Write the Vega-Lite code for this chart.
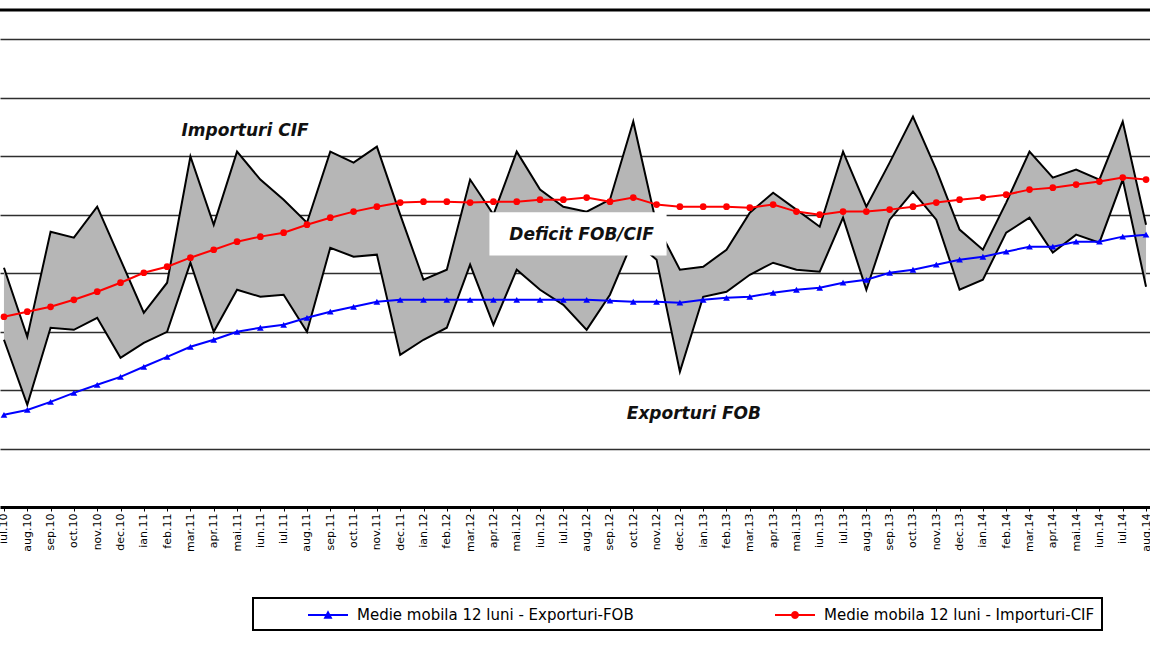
{
  "$schema": "https://vega.github.io/schema/vega-lite/v6.json",
  "width": 1150,
  "height": 497,
  "autosize": {"type": "none"},
  "padding": {"top": 10, "left": 0, "right": 0, "bottom": 140},
  "background": "white",
  "config": {"view": {"stroke": null}, "font": "DejaVu Sans", "legend": {"strokeWidth": 2}},
  "datasets": {
    "trade": [
      {"m": "iul.10", "imp": 4046, "exp": 3430, "mi": 3627, "me": 2788},
      {"m": "aug.10", "imp": 3455, "exp": 2873, "mi": 3670, "me": 2830},
      {"m": "sep.10", "imp": 4354, "exp": 3533, "mi": 3712, "me": 2899},
      {"m": "oct.10", "imp": 4303, "exp": 3515, "mi": 3772, "me": 2976},
      {"m": "nov.10", "imp": 4568, "exp": 3618, "mi": 3841, "me": 3045},
      {"m": "dec.10", "imp": 4115, "exp": 3276, "mi": 3918, "me": 3113},
      {"m": "ian.11", "imp": 3661, "exp": 3404, "mi": 4003, "me": 3199},
      {"m": "feb.11", "imp": 3918, "exp": 3498, "mi": 4055, "me": 3284},
      {"m": "mar.11", "imp": 4997, "exp": 4089, "mi": 4132, "me": 3370},
      {"m": "apr.11", "imp": 4414, "exp": 3498, "mi": 4200, "me": 3430},
      {"m": "mai.11", "imp": 5039, "exp": 3858, "mi": 4269, "me": 3498},
      {"m": "iun.11", "imp": 4800, "exp": 3798, "mi": 4312, "me": 3533},
      {"m": "iul.11", "imp": 4628, "exp": 3815, "mi": 4346, "me": 3558},
      {"m": "aug.11", "imp": 4431, "exp": 3498, "mi": 4414, "me": 3618},
      {"m": "sep.11", "imp": 5039, "exp": 4217, "mi": 4474, "me": 3670},
      {"m": "oct.11", "imp": 4945, "exp": 4140, "mi": 4526, "me": 3712},
      {"m": "nov.11", "imp": 5082, "exp": 4158, "mi": 4568, "me": 3755},
      {"m": "dec.11", "imp": 4500, "exp": 3301, "mi": 4603, "me": 3772},
      {"m": "ian.12", "imp": 3943, "exp": 3430, "mi": 4611, "me": 3772},
      {"m": "feb.12", "imp": 4029, "exp": 3533, "mi": 4611, "me": 3772},
      {"m": "mar.12", "imp": 4800, "exp": 4072, "mi": 4603, "me": 3772},
      {"m": "apr.12", "imp": 4500, "exp": 3558, "mi": 4611, "me": 3772},
      {"m": "mai.12", "imp": 5039, "exp": 4029, "mi": 4611, "me": 3772},
      {"m": "iun.12", "imp": 4714, "exp": 3858, "mi": 4628, "me": 3772},
      {"m": "iul.12", "imp": 4568, "exp": 3729, "mi": 4628, "me": 3772},
      {"m": "aug.12", "imp": 4526, "exp": 3515, "mi": 4646, "me": 3772},
      {"m": "sep.12", "imp": 4628, "exp": 3815, "mi": 4611, "me": 3764},
      {"m": "oct.12", "imp": 5296, "exp": 4286, "mi": 4646, "me": 3755},
      {"m": "nov.12", "imp": 4414, "exp": 4115, "mi": 4586, "me": 3755},
      {"m": "dec.12", "imp": 4029, "exp": 3156, "mi": 4568, "me": 3747},
      {"m": "ian.13", "imp": 4055, "exp": 3798, "mi": 4568, "me": 3772},
      {"m": "feb.13", "imp": 4200, "exp": 3841, "mi": 4568, "me": 3789},
      {"m": "mar.13", "imp": 4517, "exp": 3986, "mi": 4560, "me": 3798},
      {"m": "apr.13", "imp": 4688, "exp": 4089, "mi": 4586, "me": 3832},
      {"m": "mai.13", "imp": 4543, "exp": 4029, "mi": 4526, "me": 3858},
      {"m": "iun.13", "imp": 4397, "exp": 4012, "mi": 4500, "me": 3875},
      {"m": "iul.13", "imp": 5039, "exp": 4474, "mi": 4526, "me": 3918},
      {"m": "aug.13", "imp": 4568, "exp": 3858, "mi": 4526, "me": 3943},
      {"m": "sep.13", "imp": 4945, "exp": 4457, "mi": 4543, "me": 4003},
      {"m": "oct.13", "imp": 5339, "exp": 4697, "mi": 4568, "me": 4029},
      {"m": "nov.13", "imp": 4885, "exp": 4457, "mi": 4603, "me": 4072},
      {"m": "dec.13", "imp": 4372, "exp": 3858, "mi": 4628, "me": 4115},
      {"m": "ian.14", "imp": 4200, "exp": 3943, "mi": 4646, "me": 4140},
      {"m": "feb.14", "imp": 4603, "exp": 4346, "mi": 4671, "me": 4183},
      {"m": "mar.14", "imp": 5039, "exp": 4474, "mi": 4714, "me": 4226},
      {"m": "apr.14", "imp": 4817, "exp": 4175, "mi": 4731, "me": 4226},
      {"m": "mai.14", "imp": 4885, "exp": 4329, "mi": 4757, "me": 4269},
      {"m": "iun.14", "imp": 4800, "exp": 4260, "mi": 4783, "me": 4269},
      {"m": "iul.14", "imp": 5296, "exp": 4800, "mi": 4817, "me": 4312},
      {"m": "aug.14", "imp": 4414, "exp": 3884, "mi": 4800, "me": 4329}
    ],
    "one": [{}]
  },
  "data": {"name": "trade"},
  "layer": [
    {
      "mark": {"type": "area", "color": "#b6b6b6", "opacity": 1},
      "encoding": {
        "x": {
          "field": "m",
          "type": "ordinal",
          "scale": {
            "type": "point",
            "padding": 0.17,
            "domain": ["iul.10","aug.10","sep.10","oct.10","nov.10","dec.10","ian.11","feb.11","mar.11","apr.11","mai.11","iun.11","iul.11","aug.11","sep.11","oct.11","nov.11","dec.11","ian.12","feb.12","mar.12","apr.12","mai.12","iun.12","iul.12","aug.12","sep.12","oct.12","nov.12","dec.12","ian.13","feb.13","mar.13","apr.13","mai.13","iun.13","iul.13","aug.13","sep.13","oct.13","nov.13","dec.13","ian.14","feb.14","mar.14","apr.14","mai.14","iun.14","iul.14","aug.14"]
          },
          "axis": {
            "title": null,
            "labelAngle": -90,
            "labelFont": "DejaVu Sans",
            "labelFontSize": 11,
            "labelColor": "black",
            "labelPadding": 2,
            "labelOverlap": false,
            "tickColor": "black",
            "tickSize": 4,
            "tickWidth": 1,
            "domainColor": "black",
            "domainWidth": 3,
            "grid": false
          }
        },
        "y": {
          "field": "exp",
          "type": "quantitative",
          "scale": {"domain": [2000, 6250], "nice": false, "zero": false},
          "axis": {
            "title": null,
            "grid": true,
            "gridColor": "#2e2e2e",
            "gridWidth": 1.7,
            "labels": false,
            "ticks": false,
            "domain": false,
            "values": [2500, 3000, 3500, 4000, 4500, 5000, 5500, 6000]
          }
        },
        "y2": {"field": "imp"}
      }
    },
    {
      "data": {"name": "one"},
      "mark": {"type": "rule", "color": "black", "strokeWidth": 3},
      "encoding": {"y": {"datum": 6250, "type": "quantitative"}}
    },
    {
      "mark": {"type": "line", "color": "black", "strokeWidth": 2},
      "encoding": {"x": {"field": "m", "type": "ordinal"}, "y": {"field": "imp", "type": "quantitative"}}
    },
    {
      "mark": {"type": "line", "color": "black", "strokeWidth": 2},
      "encoding": {"x": {"field": "m", "type": "ordinal"}, "y": {"field": "exp", "type": "quantitative"}}
    },
    {
      "data": {"name": "one"},
      "mark": {"type": "rect", "color": "white", "opacity": 1, "xOffset": -4, "x2Offset": 10},
      "encoding": {
        "x": {"datum": "apr.12", "type": "ordinal"},
        "x2": {"datum": "nov.12"},
        "y": {"datum": 4520, "type": "quantitative"},
        "y2": {"datum": 4150}
      }
    },
    {
      "data": {"name": "one"},
      "mark": {"type": "text", "text": "Importuri CIF", "dx": 8, "font": "DejaVu Sans", "fontSize": 17, "fontWeight": "bold", "fontStyle": "italic", "color": "#111111", "align": "center", "baseline": "middle"},
      "encoding": {"x": {"datum": "mai.11", "type": "ordinal"}, "y": {"datum": 5219, "type": "quantitative"}}
    },
    {
      "data": {"name": "one"},
      "mark": {"type": "text", "text": "Deficit FOB/CIF", "dx": -5, "font": "DejaVu Sans", "fontSize": 17, "fontWeight": "bold", "fontStyle": "italic", "color": "#111111", "align": "center", "baseline": "middle"},
      "encoding": {"x": {"datum": "aug.12", "type": "ordinal"}, "y": {"datum": 4329, "type": "quantitative"}}
    },
    {
      "data": {"name": "one"},
      "mark": {"type": "text", "text": "Exporturi FOB", "dx": 14, "font": "DejaVu Sans", "fontSize": 17, "fontWeight": "bold", "fontStyle": "italic", "color": "#111111", "align": "center", "baseline": "middle"},
      "encoding": {"x": {"datum": "dec.12", "type": "ordinal"}, "y": {"datum": 2796, "type": "quantitative"}}
    },
    {
      "mark": {"type": "line", "color": "#0000ff", "strokeWidth": 2},
      "encoding": {"x": {"field": "m", "type": "ordinal"}, "y": {"field": "me", "type": "quantitative"}}
    },
    {
      "mark": {"type": "line", "color": "#ff0000", "strokeWidth": 2},
      "encoding": {"x": {"field": "m", "type": "ordinal"}, "y": {"field": "mi", "type": "quantitative"}}
    },
    {
      "mark": {"type": "point", "shape": "triangle-up", "filled": true, "color": "#0000ff", "size": 45, "opacity": 1},
      "encoding": {"x": {"field": "m", "type": "ordinal"}, "y": {"field": "me", "type": "quantitative"}}
    },
    {
      "mark": {"type": "circle", "color": "#ff0000", "size": 45, "opacity": 1},
      "encoding": {"x": {"field": "m", "type": "ordinal"}, "y": {"field": "mi", "type": "quantitative"}}
    },
    {
      "transform": [{"fold": ["me", "mi"], "as": ["k", "val"]}],
      "mark": {"type": "point", "filled": true, "size": 0, "opacity": 1, "strokeWidth": 0},
      "encoding": {
        "x": {"field": "m", "type": "ordinal"},
        "y": {"field": "val", "type": "quantitative"},
        "color": {
          "field": "k",
          "type": "nominal",
          "scale": {"domain": ["me", "mi"], "range": ["#0000ff", "#ff0000"]},
          "legend": {
            "title": null,
            "orient": "none",
            "legendX": 253,
            "legendY": 588,
            "direction": "horizontal",
            "columns": 2,
            "strokeColor": "black",
            "fillColor": "white",
            "padding": 7,
            "symbolSize": 400,
            "symbolStrokeWidth": 0,
            "symbolOpacity": 1,
            "symbolOffset": 58,
            "labelOffset": 19,
            "columnPadding": 93,
            "labelFont": "DejaVu Sans",
            "labelFontSize": 15,
            "labelColor": "black",
            "labelLimit": 0,
            "labelExpr": "datum.value == 'me' ? 'Medie mobila 12 luni - Exporturi-FOB' : 'Medie mobila 12 luni - Importuri-CIF'"
          }
        },
        "shape": {
          "field": "k",
          "type": "nominal",
          "scale": {
            "domain": ["me", "mi"],
            "range": [
              "M-2,-0.1H2V0.1H-2ZM-0.45,0.38L0,-0.48L0.45,0.38Z",
              "M-2,-0.1H2V0.1H-2ZM0.4,0L0.346,0.2L0.2,0.346L0,0.4L-0.2,0.346L-0.346,0.2L-0.4,0L-0.346,-0.2L-0.2,-0.346L0,-0.4L0.2,-0.346L0.346,-0.2Z"
            ]
          },
          "legend": {
            "title": null,
            "orient": "none",
            "legendX": 253,
            "legendY": 588,
            "direction": "horizontal",
            "columns": 2,
            "strokeColor": "black",
            "fillColor": "white",
            "padding": 7,
            "symbolSize": 400,
            "symbolStrokeWidth": 0,
            "symbolOpacity": 1,
            "symbolOffset": 58,
            "labelOffset": 19,
            "columnPadding": 93,
            "labelFont": "DejaVu Sans",
            "labelFontSize": 15,
            "labelColor": "black",
            "labelLimit": 0,
            "labelExpr": "datum.value == 'me' ? 'Medie mobila 12 luni - Exporturi-FOB' : 'Medie mobila 12 luni - Importuri-CIF'"
          }
        }
      }
    }
  ]
}
